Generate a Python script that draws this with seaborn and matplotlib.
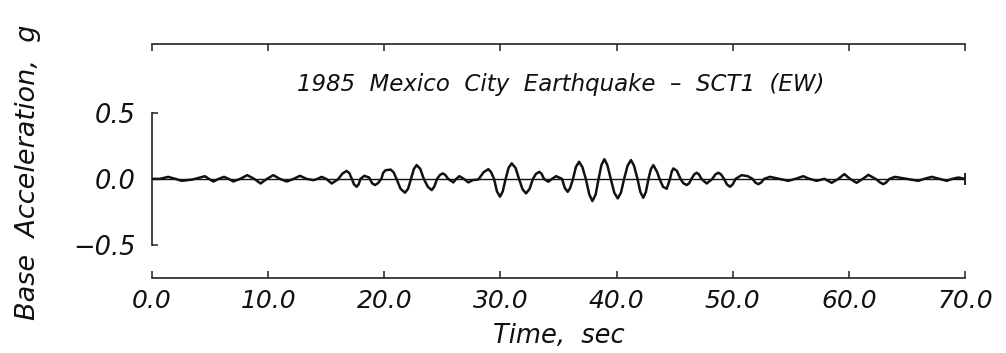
import matplotlib
matplotlib.use("Agg")
import matplotlib.pyplot as plt
import seaborn as sns
import pandas as pd

# Ground-motion record: time (s) and base acceleration (g)
time_s = [
    0.0, 0.7, 1.4, 2.0, 2.55, 3.5, 4.56, 4.9, 5.28, 5.75, 6.2, 6.6, 7.0, 7.6,
    8.2, 8.8, 9.35, 9.9, 10.45, 11.0, 11.6, 12.2, 12.74, 13.3, 13.89, 14.25,
    14.6, 15.0, 15.47, 16.0, 16.4, 16.76, 17.0, 17.2, 17.4, 17.62, 17.8,
    17.95, 18.28, 18.7, 18.95, 19.2, 19.45, 19.75, 19.9, 20.1, 20.55, 20.8,
    21.05, 21.4, 21.78, 22.05, 22.3, 22.55, 22.79, 23.1, 23.4, 23.75, 24.08,
    24.3, 24.55, 24.8, 25.03, 25.25, 25.5, 25.94, 26.2, 26.46, 26.85, 27.24,
    27.6, 28.1, 28.55, 28.96, 29.2, 29.45, 29.7, 29.96, 30.2, 30.45, 30.7,
    30.97, 31.3, 31.6, 31.9, 32.2, 32.5, 32.8, 33.05, 33.35, 33.55, 33.75,
    34.12, 34.45, 34.79, 35.3, 35.55, 35.79, 36.0, 36.25, 36.5, 36.77, 37.05,
    37.35, 37.65, 37.92, 38.2, 38.45, 38.7, 38.95, 39.2, 39.5, 39.8, 40.1,
    40.38, 40.65, 40.95, 41.24, 41.5, 41.8, 42.05, 42.3, 42.52, 42.75, 42.95,
    43.17, 43.5, 43.7, 44.0, 44.32, 44.6, 44.75, 44.89, 45.2, 45.5, 45.75,
    46.04, 46.25, 46.45, 46.68, 46.9, 47.1, 47.3, 47.76, 48.25, 48.5, 48.76,
    49.0, 49.25, 49.5, 49.77, 50.0, 50.25, 50.77, 51.3, 51.7, 51.95, 52.2,
    52.45, 52.7, 53.21, 54.0, 54.79, 55.4, 56.08, 56.6, 57.23, 57.9, 58.52,
    59.1, 59.61, 60.1, 60.67, 61.2, 61.68, 62.3, 62.7, 62.97, 63.2, 63.5,
    63.97, 65.0, 65.98, 66.5, 67.13, 67.8, 68.43, 68.9, 69.43, 70.0,
]
accel_g = [
    0.0, 0.0, 0.015, 0.0, -0.015, -0.005, 0.02, 0.0, -0.02, 0.0, 0.015, 0.0,
    -0.02, 0.0, 0.028, 0.0, -0.035, 0.0, 0.028, 0.0, -0.02, 0.0, 0.023, 0.0,
    -0.01, 0.0, 0.015, 0.0, -0.035, -0.005, 0.04, 0.06, 0.042, 0.0, -0.042,
    -0.06, -0.04, 0.0, 0.023, 0.01, -0.033, -0.047, -0.033, 0.0, 0.045,
    0.065, 0.07, 0.05, 0.0, -0.075, -0.105, -0.075, 0.0, 0.075, 0.104, 0.075,
    0.0, -0.06, -0.085, -0.06, 0.0, 0.03, 0.041, 0.03, 0.0, -0.027, 0.0,
    0.02, 0.0, -0.027, -0.01, -0.005, 0.05, 0.073, 0.05, 0.0, -0.095, -0.135,
    -0.095, 0.0, 0.083, 0.117, 0.083, 0.0, -0.078, -0.11, -0.078, 0.0, 0.037,
    0.053, 0.037, 0.0, -0.022, 0.0, 0.02, 0.0, -0.07, -0.098, -0.07, 0.0,
    0.09, 0.129, 0.09, 0.0, -0.118, -0.168, -0.118, 0.0, 0.105, 0.149, 0.105,
    0.0, -0.104, -0.148, -0.104, 0.0, 0.1, 0.142, 0.1, 0.0, -0.1, -0.143,
    -0.1, 0.0, 0.073, 0.104, 0.05, 0.0, -0.06, -0.075, 0.0, 0.055, 0.079,
    0.06, 0.0, -0.033, -0.047, -0.033, 0.0, 0.033, 0.046, 0.033, 0.0, -0.035,
    0.0, 0.033, 0.046, 0.033, 0.0, -0.042, -0.06, -0.042, 0.0, 0.028, 0.02,
    0.0, -0.028, -0.04, -0.028, 0.0, 0.015, 0.0, -0.015, 0.0, 0.02, 0.0,
    -0.015, 0.0, -0.03, 0.0, 0.036, 0.0, -0.03, 0.0, 0.03, 0.0, -0.028,
    -0.04, -0.028, 0.0, 0.015, 0.0, -0.015, 0.0, 0.015, 0.0, -0.015, 0.0,
    0.01, 0.0,
]

x_ticks = [0, 10, 20, 30, 40, 50, 60, 70]
x_tick_labels = ["0.0", "10.0", "20.0", "30.0", "40.0", "50.0", "60.0", "70.0"]
y_ticks = [-0.5, 0.0, 0.5]
y_tick_labels = ["\u22120.5", "0.0", "0.5"]

title_text = "1985  Mexico  City  Earthquake  \u2013  SCT1  (EW)"
x_label = "Time,  sec"
y_label = "Base  Acceleration,  g"

sns.set_theme(style="white")
plt.rcParams["font.family"] = ["DejaVu Sans"]
plt.rcParams["font.style"] = "italic"

W, H = 1006, 353
fig = plt.figure(figsize=(W / 100, H / 100), dpi=100)
fig.patch.set_facecolor("white")

# axes box in pixel terms: left 152, right 965, top 44, bottom 278
ax = fig.add_axes([152 / W, 1 - 278 / H, (965 - 152) / W, (278 - 44) / H])
ax.set_facecolor("white")

df = pd.DataFrame({"t": time_s, "a": accel_g})
ax.axhline(0, color="#111111", lw=1.0, zorder=2)
sns.lineplot(data=df, x="t", y="a", ax=ax, color="#111111", lw=1.8,
             solid_joinstyle="round", solid_capstyle="round", zorder=3)

ax.set_xlim(x_ticks[0], x_ticks[-1])
ax.set_ylim(-0.75, 1.02)
# end tick closing the zero line
ax.plot([x_ticks[-1]], [0], marker="|", ms=9, mew=1.3, color="#111111",
        clip_on=False, zorder=4)

for side in ["top", "bottom", "left"]:
    ax.spines[side].set_visible(True)
    ax.spines[side].set_color("#222222")
    ax.spines[side].set_linewidth(1.2)
ax.spines["right"].set_visible(False)
ax.spines["left"].set_bounds(y_ticks[0], y_ticks[-1])

ax.set_xticks(x_ticks)
ax.set_xticklabels(x_tick_labels)
ax.set_yticks(y_ticks)
ax.set_yticklabels(y_tick_labels)
ax.tick_params(axis="x", which="both", direction="in", top=True, bottom=True,
               labeltop=False, length=5, width=1.1, color="#222222",
               labelsize=18, pad=8, labelcolor="#111111")
ax.tick_params(axis="y", which="both", direction="in", left=True, right=False,
               length=4, width=1.1, color="#222222", labelsize=18.5, pad=12,
               labelcolor="#111111")
for lbl in ax.get_xticklabels() + ax.get_yticklabels():
    lbl.set_fontstyle("italic")

ax.set_xlabel(x_label, fontsize=18.5, fontstyle="italic", color="#111111",
              labelpad=7)
ax.set_ylabel("")
fig.text(28 / W, 1 - 172 / H, y_label, rotation=90, ha="center", va="center",
         fontsize=19.5, fontstyle="italic", color="#111111")
ax.text(0.503, 0.829, title_text, transform=ax.transAxes, ha="center",
        va="center", fontsize=16.5, fontstyle="italic", color="#111111")

fig.savefig("out.png", dpi=100, facecolor="white")
